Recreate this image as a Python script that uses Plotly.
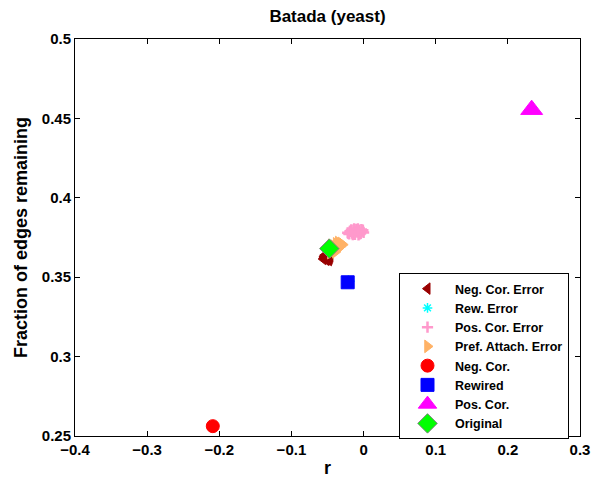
import plotly.graph_objects as go

# ---- data ----
neg_err_r = [-0.056, -0.054, -0.052, -0.050, -0.049, -0.053, -0.055, -0.051, -0.047, -0.048, -0.046, -0.052, -0.050, -0.054]
neg_err_f = [0.3615, 0.3620, 0.3610, 0.3612, 0.3625, 0.3630, 0.3628, 0.3635, 0.3618, 0.3608, 0.3630, 0.3640, 0.3645, 0.3638]

rew_err_r = [-0.024, -0.022, -0.020, -0.023, -0.021, -0.019, -0.022]
rew_err_f = [0.3460, 0.3470, 0.3465, 0.3478, 0.3482, 0.3474, 0.3468]

pos_err_r = [-0.022, -0.020, -0.018, -0.016, -0.014, -0.012, -0.010, -0.008, -0.006, -0.004, -0.002, 0.000,
             -0.019, -0.015, -0.011, -0.007, -0.003, -0.017, -0.013, -0.009, -0.005, -0.001, -0.021, -0.012, -0.008]
pos_err_f = [0.3780, 0.3772, 0.3790, 0.3778, 0.3795, 0.3770, 0.3800, 0.3784, 0.3796, 0.3776, 0.3790, 0.3782,
             0.3788, 0.3768, 0.3786, 0.3766, 0.3800, 0.3798, 0.3804, 0.3792, 0.3772, 0.3796, 0.3776, 0.3786, 0.3804]

pa_err_r = [-0.046, -0.043, -0.040, -0.037, -0.034, -0.031, -0.029, -0.044, -0.041, -0.038, -0.035, -0.032, -0.045, -0.039, -0.036]
pa_err_f = [0.3655, 0.3665, 0.3672, 0.3690, 0.3700, 0.3712, 0.3705, 0.3680, 0.3695, 0.3710, 0.3718, 0.3694, 0.3700, 0.3660, 0.3678]

neg_r, neg_f = [-0.209], [0.2562]
rew_r, rew_f = [-0.022], [0.3468]
pos_r, pos_f = [0.233], [0.4555]
orig_r, orig_f = [-0.0475], [0.3680]

x_ticks = [-0.4, -0.3, -0.2, -0.1, 0, 0.1, 0.2, 0.3]
x_labels = ["\u22120.4", "\u22120.3", "\u22120.2", "\u22120.1", "0", "0.1", "0.2", "0.3"]
y_ticks = [0.25, 0.3, 0.35, 0.4, 0.45, 0.5]
y_labels = ["0.25", "0.3", "0.35", "0.4", "0.45", "0.5"]

FONT = "Liberation Sans, Arial, Helvetica, sans-serif"

fig = go.Figure()
fig.add_trace(go.Scatter(x=neg_err_r, y=neg_err_f, mode="markers", name="Neg. Cor. Error",
                         marker=dict(symbol="triangle-left", size=10, color="#990000",
                                     line=dict(color="#990000", width=1))))
fig.add_trace(go.Scatter(x=rew_err_r, y=rew_err_f, mode="markers", name="Rew. Error",
                         marker=dict(symbol="asterisk-open", size=8, color="#00FFFF",
                                     line=dict(color="#00FFFF", width=1.5))))
fig.add_trace(go.Scatter(x=pos_err_r, y=pos_err_f, mode="markers", name="Pos. Cor. Error",
                         marker=dict(symbol="cross-thin-open", size=8, color="#FF99CC",
                                     line=dict(color="#FF99CC", width=2.5))))
fig.add_trace(go.Scatter(x=pa_err_r, y=pa_err_f, mode="markers", name="Pref. Attach. Error",
                         marker=dict(symbol="triangle-right", size=11, color="#FFB266",
                                     line=dict(color="#FFB266", width=1))))
fig.add_trace(go.Scatter(x=neg_r, y=neg_f, mode="markers", name="Neg. Cor.",
                         marker=dict(symbol="circle", size=13, color="#FF0000",
                                     line=dict(color="#FF0000", width=1))))
fig.add_trace(go.Scatter(x=rew_r, y=rew_f, mode="markers", name="Rewired",
                         marker=dict(symbol="square", size=13, color="#0000FF",
                                     line=dict(color="#0000FF", width=1))))
fig.add_trace(go.Scatter(x=pos_r, y=pos_f, mode="markers", name="Pos. Cor.",
                         marker=dict(symbol="triangle-up", size=19, color="#FF00FF",
                                     line=dict(color="#FF00FF", width=1))))
fig.add_trace(go.Scatter(x=orig_r, y=orig_f, mode="markers", name="Original",
                         marker=dict(symbol="diamond", size=15, color="#00FF00",
                                     line=dict(color="#808080", width=1))))

axis_common = dict(showline=True, linecolor="black", linewidth=1, mirror="ticks",
                   ticks="inside", ticklen=5, tickcolor="black", showgrid=False, zeroline=False,
                   automargin=False,
                   tickfont=dict(family=FONT, size=15, color="black", weight="bold"))

fig.update_layout(
    width=604, height=481,
    margin=dict(l=75, r=24, t=39, b=45),
    paper_bgcolor="white", plot_bgcolor="white",
    title=dict(text="Batada (yeast)", x=(75 + 505 / 2) / 604,
               xanchor="center", y=1 - 16 / 481, yanchor="middle",
               font=dict(family=FONT, size=17, color="black", weight="bold")),
    xaxis=dict(range=[-0.4, 0.3], tickvals=x_ticks, ticktext=x_labels,
               title=dict(text="r", standoff=4,
                          font=dict(family=FONT, size=18, color="black", weight="bold")),
               **axis_common),
    yaxis=dict(range=[0.25, 0.5], tickvals=y_ticks, ticktext=y_labels,
               title=dict(text="Fraction of edges remaining", standoff=9,
                          font=dict(family=FONT, size=18, color="black", weight="bold")),
               **axis_common),
    legend=dict(x=(399 - 75) / 505, y=(436 - 273) / 397, xanchor="left", yanchor="top",
                bgcolor="white", bordercolor="black", borderwidth=1,
                font=dict(family=FONT, size=12.5, color="black", weight="bold"),
                itemwidth=45, tracegroupgap=0),
    showlegend=True,
)

fig.write_html("out.html")
